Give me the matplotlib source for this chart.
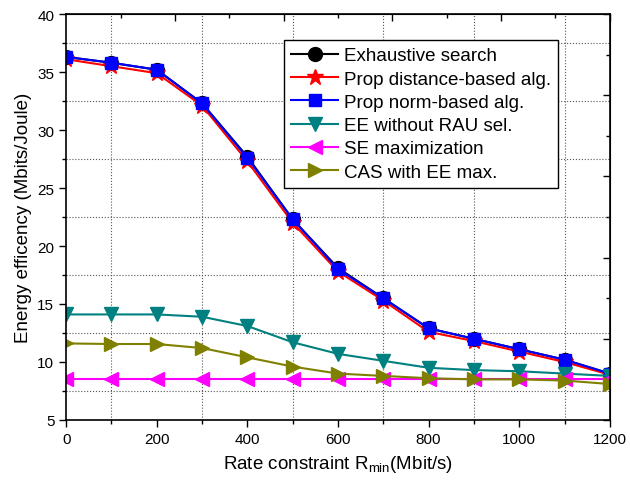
import numpy as np
import matplotlib.pyplot as plt
from matplotlib.ticker import MultipleLocator, FixedLocator

plt.rcParams['font.family'] = ['Liberation Sans', 'DejaVu Sans']
plt.rcParams['mathtext.fontset'] = 'custom'
plt.rcParams['mathtext.rm'] = 'Liberation Sans'

# data
rate = [0, 100, 200, 300, 400, 500, 600, 700, 800, 900, 1000, 1100, 1200]
exhaustive = [36.3, 35.8, 35.2, 32.3, 27.7, 22.3, 18.1, 15.5, 12.9, 12.0, 11.1, 10.2, 9.0]
prop_dist = [36.1, 35.5, 34.9, 32.1, 27.3, 22.0, 17.8, 15.3, 12.6, 11.8, 10.9, 10.0, 8.9]
prop_norm = [36.3, 35.8, 35.2, 32.3, 27.6, 22.3, 18.0, 15.5, 12.9, 12.0, 11.1, 10.2, 9.0]
ee_no_rau = [14.1, 14.1, 14.1, 13.9, 13.1, 11.7, 10.7, 10.1, 9.5, 9.3, 9.2, 9.0, 8.8]
se_max = [8.5, 8.5, 8.5, 8.5, 8.5, 8.5, 8.5, 8.5, 8.5, 8.5, 8.5, 8.5, 8.5]
cas_ee = [11.6, 11.55, 11.55, 11.2, 10.4, 9.6, 9.0, 8.8, 8.6, 8.5, 8.5, 8.4, 8.1]

fig = plt.figure(figsize=(6.3, 4.85), dpi=100)
ax = fig.add_axes([0.105, 0.132, 0.863, 0.837])

lw = 1.5
ax.plot(rate, exhaustive, color='black', marker='o', ms=10, lw=lw, label='Exhaustive search')
ax.plot(rate, prop_dist, color='red', marker='*', ms=12, lw=lw, label='Prop distance-based alg.')
ax.plot(rate, prop_norm, color='blue', marker='s', ms=8.5, lw=lw, label='Prop norm-based alg.')
ax.plot(rate, ee_no_rau, color='#008080', marker='v', ms=10, lw=lw, label='EE without RAU sel.')
ax.plot(rate, se_max, color='#FF00FF', marker='<', ms=10, lw=lw, label='SE maximization')
ax.plot(rate, cas_ee, color='#808000', marker='>', ms=10, lw=lw, label='CAS with EE max.')

ax.set_xlim(0, 1200)
ax.set_ylim(5, 40)
ax.xaxis.set_major_locator(MultipleLocator(200))
ax.xaxis.set_minor_locator(MultipleLocator(100))
ax.yaxis.set_major_locator(MultipleLocator(5))
ax.yaxis.set_minor_locator(MultipleLocator(2.5))
ax.grid(which='minor', color='#555555', linestyle=':', linewidth=0.8)
ax.grid(which='major', visible=False)

ax.tick_params(which='both', direction='out', top=False, right=False, labelsize=11, width=1.0)
ax.tick_params(which='major', length=5)
ax.tick_params(which='minor', length=3)

# Origin-style inward ticks on top and right
ax2 = ax.secondary_xaxis('top')
ax2.xaxis.set_major_locator(FixedLocator([240, 480, 720, 960, 1200]))
ax2.xaxis.set_minor_locator(FixedLocator([120, 360, 600, 840, 1080]))
ax2.tick_params(which='both', direction='in', labeltop=False, width=1.0)
ax2.tick_params(which='major', length=5)
ax2.tick_params(which='minor', length=3)
ax3 = ax.secondary_yaxis('right')
ax3.yaxis.set_major_locator(FixedLocator([5, 12, 19, 26, 33, 40]))
ax3.yaxis.set_minor_locator(FixedLocator([8.5, 15.5, 22.5, 29.5, 36.5]))
ax3.tick_params(which='both', direction='in', labelright=False, width=1.0)
ax3.tick_params(which='major', length=5)
ax3.tick_params(which='minor', length=3)
for s in ax.spines.values():
    s.set_linewidth(1.2)

ax.set_xlabel(r'Rate constraint R$_{\mathrm{min}}$(Mbit/s)', fontsize=13.5, labelpad=5)
ax.set_ylabel('Energy efficency (Mbits/Joule)', fontsize=13.5, labelpad=4)

leg = ax.legend(loc='upper left', bbox_to_anchor=(0.4, 0.937), fontsize=13.5,
                fancybox=False, framealpha=1, edgecolor='black',
                handlelength=2.5, borderpad=0.4, labelspacing=0.33, handletextpad=0.3,
                borderaxespad=0)
leg.get_frame().set_linewidth(1.0)

fig.savefig('out.png', dpi=100)
